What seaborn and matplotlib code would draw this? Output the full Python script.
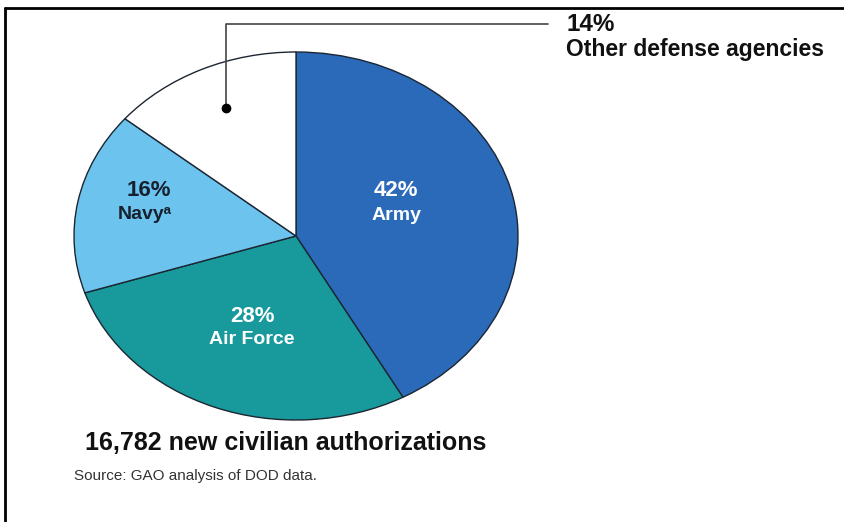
import matplotlib
matplotlib.use("Agg")
import matplotlib.pyplot as plt
from matplotlib.lines import Line2D
import seaborn as sns

# ---- data ----
categories = ["Army", "Air Force", "Navy", "Other defense agencies"]
shares = [42, 28, 16, 14]
total_label = "16,782 new civilian authorizations"
source_label = "Source: GAO analysis of DOD data."

sns.set_theme(style="white")
plt.rcParams["font.family"] = ["Liberation Sans", "DejaVu Sans"]

colors = ["#2a6ab8", "#18999b", "#6cc4ee", "#ffffff"]

W, H = 845, 522
fig = plt.figure(figsize=(W / 100, H / 100), dpi=100)
fig.patch.set_facecolor("white")

def fx(px):
    return px / W

def fy(py):
    return 1 - py / H

# axes box = bounding box of the (elliptical) pie
left, top, right, bottom = 74, 52, 518, 420
ax = fig.add_axes([fx(left), fy(bottom), (right - left) / W, (bottom - top) / H])
wedges, _ = ax.pie(
    shares,
    colors=colors,
    startangle=90,
    counterclock=False,
    radius=1.0,
    wedgeprops=dict(edgecolor="#1c2633", linewidth=1.0),
)
ax.set_aspect("auto")
ax.set_xlim(-1.0, 1.0)
ax.set_ylim(-1.0, 1.0)
ax.axis("off")
for w in wedges:
    w.set_clip_on(False)

# in-slice labels (axes data coords)
bold = dict(fontweight="bold", ha="center", va="center")
pct_fs, name_fs = 16, 14
ax.text(0.45, 0.245, f"{shares[0]}%", color="white", fontsize=pct_fs, **bold)
ax.text(0.455, 0.112, categories[0], color="white", fontsize=name_fs, **bold)
ax.text(-0.198, -0.435, f"{shares[1]}%", color="white", fontsize=pct_fs, **bold)
ax.text(-0.198, -0.562, categories[1], color="white", fontsize=name_fs, **bold)
ax.text(-0.662, 0.245, f"{shares[2]}%", color="#16202e", fontsize=pct_fs, **bold)
ax.text(-0.68, 0.115, categories[2] + "\u1d43", color="#16202e", fontsize=name_fs, **bold)

# leader for "Other defense agencies"
lc = "#444444"
fig.add_artist(Line2D([fx(226), fx(226), fx(548)], [fy(108), fy(24), fy(24)],
                      color=lc, linewidth=1.2, transform=fig.transFigure))
fig.add_artist(Line2D([fx(226)], [fy(108)], marker="o", markersize=6,
                      color="black", transform=fig.transFigure))
fig.text(fx(566), fy(31), f"{shares[3]}%", fontsize=17.5, fontweight="bold",
         color="#111111", ha="left", va="baseline")
fig.text(fx(566), fy(56), categories[3], fontsize=16.5, fontweight="bold",
         color="#111111", ha="left", va="baseline")

# bottom texts
fig.text(fx(85), fy(443), total_label, fontsize=18, fontweight="bold",
         color="#111111", ha="left", va="center")
fig.text(fx(74), fy(476), source_label, fontsize=11, color="#333333",
         ha="left", va="center")

# frame lines (top and left)
fig.add_artist(Line2D([fx(5), 1.0], [fy(8), fy(8)], color="black", linewidth=2,
                      transform=fig.transFigure))
fig.add_artist(Line2D([fx(5), fx(5)], [fy(8), 0.0], color="black", linewidth=2,
                      transform=fig.transFigure))

fig.savefig("out.png", dpi=100, facecolor="white")
